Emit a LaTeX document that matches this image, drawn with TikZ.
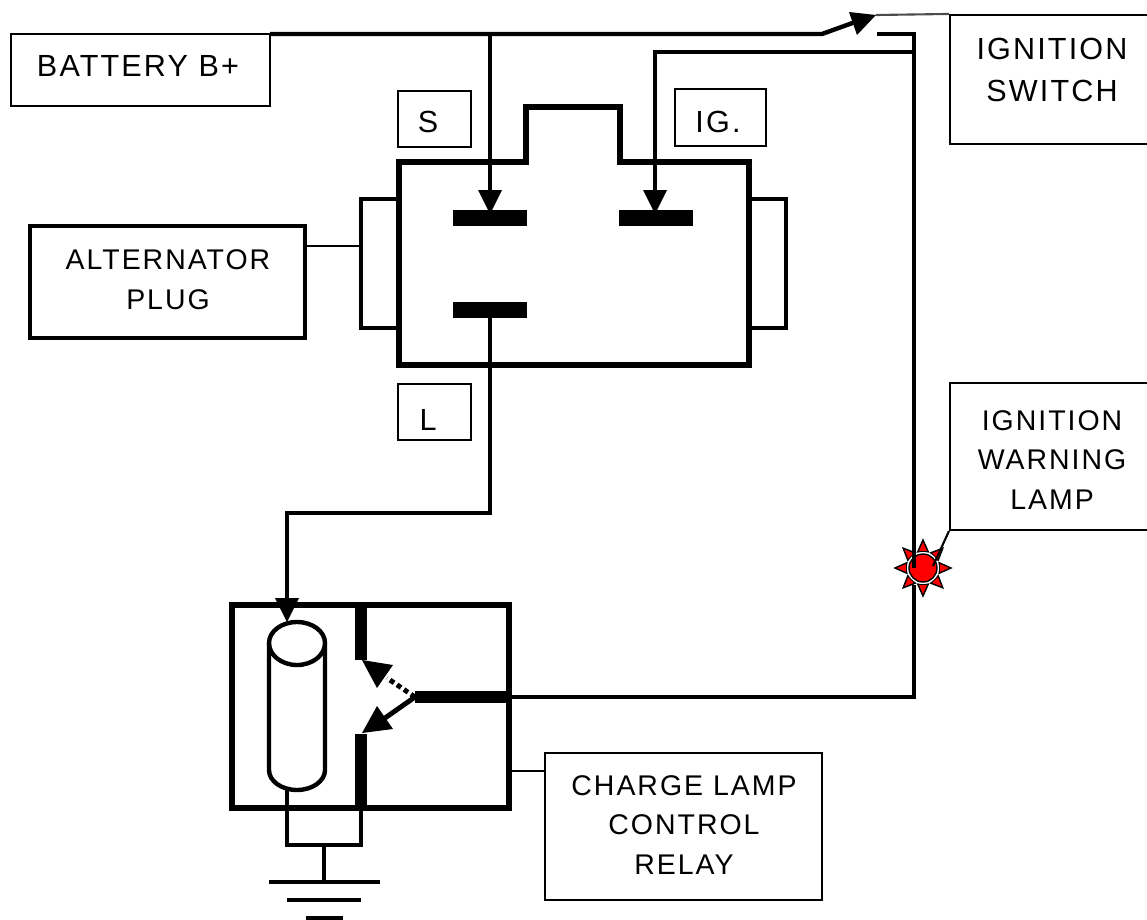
\documentclass[tikz,border=0pt]{standalone}
\usepackage{fontspec}
\setmainfont[LetterSpace=7]{Liberation Sans}
\tikzset{
    wire/.style={line width=2.5pt},
    thinwire/.style={line width=1.2pt},
    tag/.style={draw,line width=1.2pt,inner sep=0pt},
    bigtext/.style={inner sep=0pt,align=center,font=\fontsize{17.4}{23.8}\selectfont},
    smalltext/.style={inner sep=0pt,align=center,font=\fontsize{16.2}{22.7}\selectfont},
    head/.style={fill=black,draw=none},
    ray/.style={fill=red,draw=black,line width=0.8pt}
}
\begin{document}
\begin{tikzpicture}[x=0.02cm,y=-0.02cm]
    \useasboundingbox(0,0)rectangle(1147,920);
    % label boxes
    \node[tag,minimum width=5.18cm,minimum height=1.44cm](battery)at(140.5,70){};
    \node[tag,minimum width=1.46cm,minimum height=1.12cm](sbox)at(434.5,119){};
    \node[tag,minimum width=1.82cm,minimum height=1.14cm](igbox)at(720.5,117.5){};
    \node[tag,minimum width=1.46cm,minimum height=1.12cm](lbox)at(434.5,412){};
    \node[tag,line width=2.4pt,minimum width=5.5cm,minimum height=2.24cm](plugbox)at(167.5,282){};
    \node[tag,minimum width=5.54cm,minimum height=2.94cm](relaybox)at(683.5,826.5){};
    \node[tag,minimum width=4.2cm,minimum height=2.58cm](switchbox)at(1055,79.5){};
    \node[tag,minimum width=4.2cm,minimum height=2.94cm](lampbox)at(1055,456.5){};
    % label texts
    \node[bigtext](batterytext)at(138,66){BATTERY B+};
    \node[bigtext](stext)at(428,122){S};
    \node[bigtext](igtext)at(718,122){IG.};
    \node[bigtext](ltext)at(428,420){L};
    \node[smalltext](plugtext)at(168,280){ALTERNATOR\\PLUG};
    \node[smalltext](relaytext)at(684,825){CHARGE LAMP\\CONTROL\\RELAY};
    \node[bigtext](switchtext)at(1052,70){IGNITION\\SWITCH};
    \node[smalltext](lamptext)at(1052,460){IGNITION\\WARNING\\LAMP};
    % wire points
    \coordinate(bat)at(270,34);
    \coordinate(sdrop)at(490,34);
    \coordinate(blade)at(822,34);
    \coordinate(bladetip)at(876,15);
    \coordinate(swend)at(877,34);
    \coordinate(swcorner)at(914,34);
    \coordinate(igtop)at(655,52);
    \coordinate(igright)at(914,52);
    \coordinate(lamptop)at(914,568);
    \coordinate(lampbot)at(914,585);
    \coordinate(lampcentre)at(923,568);
    \coordinate(wirecorner)at(914,697);
    \coordinate(armright)at(510,697);
    \coordinate(armleft)at(415,697);
    % alternator plug
    \draw[line width=3.6pt](399,162)--(526,162)--(526,107)--(620,107)--(620,162)--(749,162)--(749,365)--(399,365)--cycle;
    \draw[wire](399,199)--(361,199)--(361,328)--(399,328);
    \draw[wire](749,199)--(786,199)--(786,328)--(749,328);
    \coordinate(sterm)at(490,218);
    \coordinate(igterm)at(655,218);
    \coordinate(lterm)at(490,310);
    \draw[line width=9pt](453,218)--(527,218);
    \draw[line width=9pt](619,218)--(693,218);
    \draw[line width=9pt](453,310)--(527,310);
    \draw[thinwire](plugbox.east|-0,246)--(361,246);
    % battery and switch
    \draw[wire](bat)--(blade)--(858,21);
    \fill[head](bladetip)--(849,12)--(857,35)--cycle;
    \draw[thinwire,draw=black!70](bladetip)--(switchbox.north west);
    \draw[wire](swend)--(swcorner)--(igright);
    \draw[wire](sdrop)--(490,195);
    \fill[head](490,214)--(478,190)--(502,190)--cycle;
    \draw[wire](igright)--(igtop)--(655,195);
    \fill[head](655,214)--(643,190)--(667,190)--cycle;
    % lamp
    \draw[wire](lampbot)--(wirecorner)--(armright);
    \foreach \a in {0,45,...,315}{
        \draw[ray]([shift={(\a+18:17)}]lampcentre)--([shift={(\a:28)}]lampcentre)--([shift={(\a-18:17)}]lampcentre)--cycle;
    }
    \fill[white](lampcentre)circle(16);
    \draw[fill=red,draw=black,line width=0.8pt](lampcentre)circle(14);
    \draw[wire](igright)--(lamptop);
    \draw[thinwire](lampbox.south west)--(933,566);
    % relay
    \node[draw,line width=3.4pt,minimum width=5.54cm,minimum height=4.06cm,inner sep=0pt](relay)at(370.5,706.5){};
    \draw[wire](lterm)--(490,513)--(287,513)--(287,600);
    \fill[head](287,622)--(275,598)--(299,598)--cycle;
    \draw[wire,fill=white](269,643)arc(180:360:28 and 21)--(325,770)arc(0:180:28 and 20)--cycle;
    \draw[wire](269,643)arc(180:0:28 and 22);
    \coordinate(coilbot)at(287,790);
    \coordinate(upperc)at(361,660);
    \coordinate(lowerc)at(361,734);
    \draw[line width=6.5pt](361,605)--(upperc);
    \draw[line width=6.5pt](lowerc)--(361,808);
    \fill[head](362,660)--(393,665)--(377,688)--cycle;
    \fill[head](362,733)--(393,729)--(377,706)--cycle;
    \draw[line width=2.8pt,dotted](armleft)--(387,678);
    \draw[line width=2.8pt](armleft)--(385,718);
    \draw[line width=6.5pt](armleft)--(armright);
    \draw[thinwire](510,771)--(relaybox.west|-0,771);
    % ground
    \coordinate(gndjoin)at(324,845);
    \coordinate(gndbar)at(324,882);
    \draw[wire](coilbot)--(287,845)--(361,845)--(361,808);
    \draw[wire](gndjoin)--(gndbar);
    \draw[wire](269,882)--(380,882);
    \draw[wire](287,900)--(361,900);
    \draw[wire](306,918)--(343,918);
\end{tikzpicture}
\end{document}
